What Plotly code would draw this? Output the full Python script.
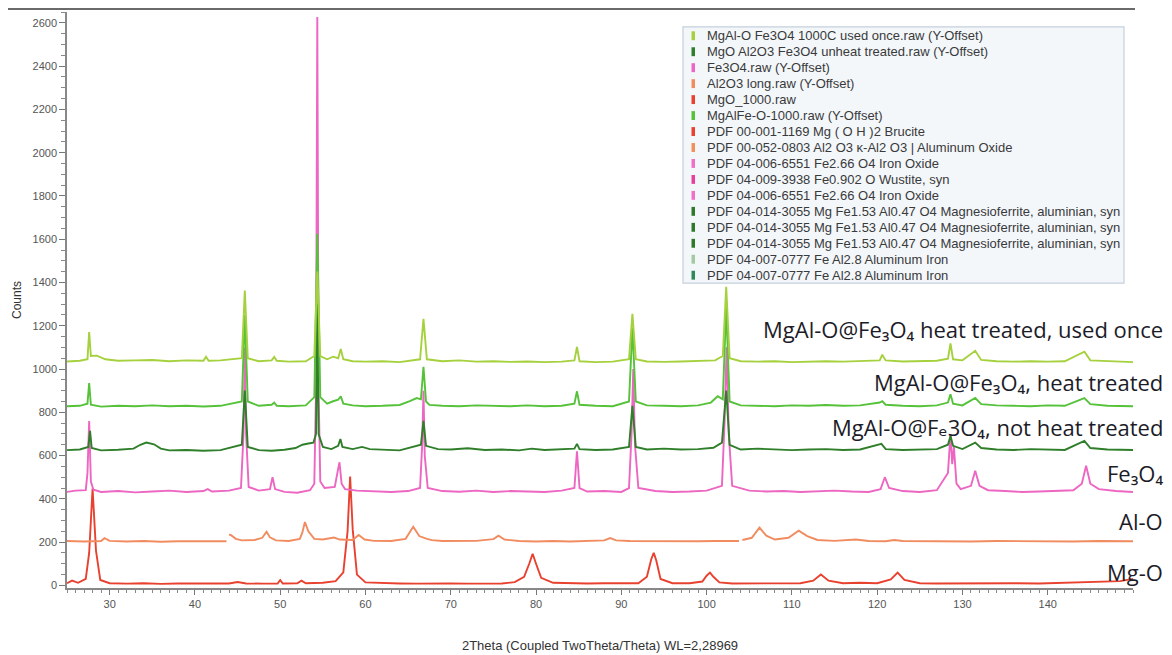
import plotly.graph_objects as go

# ---------------- data (2theta, counts) ----------------
mgo_pts = [(25,10),(25.6,22),(26.3,12),(27.2,30),(27.6,150),(28.0,448),(28.4,160),(28.9,25),(30,10),(32,8),
           (34,10),(36,7),(38,9),(40,8),(42,10),(44,9),(45,16),(46,9),(48,8),(49.7,9),(50,25),(50.3,9),
           (52,10),(52.5,22),(53,10),(55,12),(56.5,20),(57.4,60),(57.9,250),(58.2,503),(58.5,260),(59.0,50),
           (60,14),(62,10),(64,9),(66,8),(68,10),(70,9),(72,8),(74,10),(76,9),(77.5,15),(78.6,40),(79.2,100),
           (79.6,146),(80.0,100),(80.6,35),(82,12),(84,10),(86,9),(88,10),(90,9),(92,10),(93.0,40),(93.5,120),
           (93.8,151),(94.1,115),(94.6,30),(96,10),(98,10),(99.5,18),(100.0,45),(100.4,59),(100.8,40),
           (101.5,14),(103,9),(105,10),(107,9),(109,10),(111,10),(112.5,22),(113.4,50),(114.3,22),(116,10),
           (118,12),(120,10),(121.6,28),(122.4,59),(123.2,25),(125,10),(127,9),(130,10),(133,8),(136,10),
           (139,9),(142,12),(145,14),(147,16),(148.5,20),(150,30)]

al2o3_pts = [(25,205),(27,203),(29,205),(29.4,218),(30,206),(32,203),(34,205),(36,202),(38,204),(40,203),
             (42,205),(43.7,204),(None,None),(44.0,235),(44.2,233),(44.8,215),(45.5,208),(47,210),(47.9,220),
             (48.4,248),(48.8,222),(49.5,208),(51,205),(52.3,215),(52.6,245),(52.9,293),(53.3,250),(54,215),
             (55,212),(56.3,221),(57,212),(58.5,210),(59.2,233),(59.9,212),(61,206),(63,205),(64.7,215),
             (65.6,271),(66.3,228),(67.2,215),(67.8,209),(69,205),(71,204),(73,206),(75,214),(75.6,230),
             (76.3,212),(78,205),(80,203),(82,205),(84,203),(86,205),(88,208),(88.7,219),(89.4,208),(91,205),
             (93,204),(95,205),(97,203),(99,204),(101,205),(103,204),(103.8,205),(None,None),(104.2,210),
             (105.3,220),(106.2,267),(107,230),(108,212),(109.6,220),(110.8,253),(111.8,228),(113,210),
             (115,206),(117.5,212),(119,205),(121,204),(122,210),(123,205),(125,204),(128,205),(131,203),
             (134,205),(137,204),(140,206),(143,203),(146,205),(150,204)]

fe3o4_pts = [(25,432),(26,438),(27.2,440),(27.4,520),(27.6,760),(27.8,480),(28.1,442),(29,432),(31,436),
             (33,430),(35,434),(37,438),(39,432),(41,436),(41.5,445),(42,434),(44,438),(45.4,450),(45.7,700),
             (45.85,1100),(46.0,700),(46.3,455),(47.5,438),(48.8,445),(49.1,500),(49.4,445),(50.5,432),
             (52,428),(53.5,440),(54.0,470),(54.2,900),(54.35,2627),(54.5,900),(54.7,480),(55.2,450),
             (56.4,455),(56.8,540),(56.95,569),(57.2,470),(57.6,445),(59,438),(61,434),(63,432),(65,436),
             (66.4,450),(66.65,650),(66.8,900),(66.95,600),(67.3,450),(69,436),(71,433),(73,438),(75,432),
             (77,436),(79,434),(81,432),(83,438),(84.5,450),(84.8,620),(85.1,450),(86,434),(88,436),(90,432),
             (90.9,450),(91.2,700),(91.4,1000),(91.6,650),(92,450),(94,436),(96,432),(98,434),(100,438),
             (101.8,460),(102.1,750),(102.35,1100),(102.6,700),(103,460),(105,438),(107,434),(109,436),
             (111,432),(113,435),(115,438),(117,434),(119,432),(120.4,445),(120.9,500),(121.4,450),(123,436),
             (125,432),(127,440),(128.3,520),(128.6,700),(128.8,560),(129.0,640),(129.3,470),(129.8,445),
             (131.0,460),(131.5,530),(132.0,460),(133,440),(135,436),(137,432),(139,434),(141,436),(143,440),
             (144.0,470),(144.5,553),(145.0,470),(146,445),(148,436),(150,432)]

unheat_pts = [(25,625),(26.5,628),(27.5,640),(27.7,714),(27.9,635),(29,624),(31,627),(32.8,632),(33.6,650),
              (34.3,660),(35.2,652),(36.0,632),(37,624),(39,626),(41,622),(43,625),(45.5,650),(45.85,900),
              (46.2,640),(47.5,625),(49,622),(50.5,627),(51.8,635),(52.6,650),(53.3,656),(53.9,660),(54.2,700),
              (54.35,1300),(54.5,700),(55,640),(56.0,630),(56.8,645),(57.06,677),(57.3,640),(58.5,630),
              (59.6,640),(60.5,630),(62,626),(64,624),(66.5,650),(66.8,760),(67.1,645),(68.5,630),(70,628),
              (72,634),(74,626),(76,628),(78,624),(79.5,632),(81,626),(83,628),(84.5,632),(84.8,654),(85.1,630),
              (87,626),(89,628),(90.9,640),(91.3,830),(91.7,640),(93,628),(95,632),(97,628),(99,630),
              (100.8,636),(101.8,660),(102.3,900),(102.7,650),(104,628),(106,632),(108,628),(110,625),
              (112,628),(114,630),(116,626),(118,628),(120.5,654),(121,630),(123,626),(125,628),(127,630),
              (128.3,650),(128.6,690),(128.9,645),(130,630),(131.5,660),(132.2,635),(134,628),(136,626),
              (138,630),(140,628),(142,626),(144.3,668),(145,635),(147,628),(150,626)]

heat_pts = [(25,828),(26.5,830),(27.4,840),(27.6,935),(27.8,835),(29,826),(31,830),(33,828),(35,832),
            (37,828),(39,830),(41,827),(43,830),(45.5,850),(45.85,1249),(46.2,850),(47.5,830),(49,835),
            (49.3,845),(49.6,830),(51,828),(53,832),(54.0,870),(54.35,1625),(54.7,870),(55.5,840),(56.2,851),
            (56.8,858),(57.1,874),(57.4,840),(58.5,832),(60,828),(62,830),(64,834),(65.2,852),(66.0,866),
            (66.5,860),(66.8,1010),(67.1,850),(67.5,834),(69,830),(71,828),(73,832),(75,830),(77,828),
            (79,832),(81,828),(83,830),(84.5,840),(84.8,897),(85.1,835),(87,830),(89,828),(90.9,850),
            (91.3,1190),(91.7,850),(93,832),(95,830),(97,828),(99,832),(100.5,845),(101.3,874),(101.9,860),
            (102.3,1285),(102.7,850),(104,832),(106,830),(108,828),(110,832),(112,830),(114,834),(116,830),
            (118,832),(120.3,845),(120.6,851),(121,835),(123,830),(125,828),(127,832),(128.3,845),(128.6,883),
            (128.9,840),(130,832),(131.5,866),(132.2,838),(134,832),(136,830),(138,828),(140,832),(142,830),
            (144.3,866),(145,838),(147,830),(150,828)]

used_pts = [(25,1035),(26.5,1038),(27.4,1045),(27.6,1171),(27.8,1060),(28.5,1062),(29.5,1045),(31,1038),
            (33,1040),(35,1042),(37,1036),(39,1040),(41,1038),(41.3,1057),(41.6,1038),(43,1040),(45.5,1050),
            (45.85,1363),(46.2,1050),(47.5,1036),(49.0,1040),(49.3,1056),(49.6,1038),(51,1034),(53,1036),
            (54.0,1060),(54.35,1450),(54.7,1060),(55.5,1045),(56.2,1057),(56.8,1050),(57.1,1093),(57.4,1045),
            (58.5,1036),(60,1034),(62,1036),(64,1032),(66.4,1045),(66.8,1232),(67.2,1045),(69,1036),(71,1040),
            (73,1034),(75,1036),(77,1033),(79,1035),(81,1032),(83,1034),(84.5,1040),(84.8,1102),(85.1,1036),
            (87,1032),(89,1034),(90.9,1045),(91.3,1255),(91.7,1045),(93,1035),(95,1033),(97,1035),(99,1036),
            (101,1040),(101.9,1060),(102.3,1380),(102.7,1050),(104,1036),(106,1034),(108,1036),(110,1032),
            (112,1034),(114,1036),(116,1034),(118,1036),(120.3,1040),(120.6,1066),(121,1040),(123,1035),
            (125,1036),(127,1038),(128.3,1048),(128.6,1118),(128.9,1045),(130,1040),(131.5,1084),(132.2,1042),
            (134,1036),(136,1034),(138,1036),(140,1034),(142,1036),(144.3,1080),(145,1040),(147,1036),
            (150,1032)]

series_names = ["MgO_1000.raw", "Al2O3 long.raw (Y-Offset)", "Fe3O4.raw (Y-Offset)",
                "MgO Al2O3 Fe3O4 unheat treated.raw (Y-Offset)", "MgAlFe-O-1000.raw (Y-Offset)",
                "MgAl-O Fe3O4 1000C used once.raw (Y-Offset)"]
series_colors = ["#e8412f", "#f08c60", "#ec66c2", "#2f7f2a", "#55c23a", "#a6d13e"]

legend_labels = ["MgAl-O Fe3O4 1000C used once.raw (Y-Offset)",
                 "MgO Al2O3 Fe3O4 unheat treated.raw (Y-Offset)",
                 "Fe3O4.raw (Y-Offset)",
                 "Al2O3 long.raw (Y-Offset)",
                 "MgO_1000.raw",
                 "MgAlFe-O-1000.raw (Y-Offset)",
                 "PDF 00-001-1169 Mg ( O H )2 Brucite",
                 "PDF 00-052-0803 Al2 O3 κ-Al2 O3 | Aluminum Oxide",
                 "PDF 04-006-6551 Fe2.66 O4 Iron Oxide",
                 "PDF 04-009-3938 Fe0.902 O Wustite, syn",
                 "PDF 04-006-6551 Fe2.66 O4 Iron Oxide",
                 "PDF 04-014-3055 Mg Fe1.53 Al0.47 O4 Magnesioferrite, aluminian, syn",
                 "PDF 04-014-3055 Mg Fe1.53 Al0.47 O4 Magnesioferrite, aluminian, syn",
                 "PDF 04-014-3055 Mg Fe1.53 Al0.47 O4 Magnesioferrite, aluminian, syn",
                 "PDF 04-007-0777 Fe Al2.8 Aluminum Iron",
                 "PDF 04-007-0777 Fe Al2.8 Aluminum Iron"]
legend_colors = ["#a6d13e", "#2f7f2a", "#ec66c2", "#f08c60", "#e8412f", "#55c23a",
                 "#e8412f", "#f0905a", "#f070c8", "#e8409a", "#f070c8",
                 "#2f7a2a", "#2f7a2a", "#2f7a2a", "#a3c9a3", "#2e8a5a"]

curve_labels = ["MgAl-O@Fe₃O₄ heat treated, used once",
                "MgAl-O@Fe₃O₄, heat treated",
                "MgAl-O@Fₑ3O₄, not heat treated",
                "Fe₃O₄",
                "Al-O",
                "Mg-O"]
curve_label_counts = [1185, 938, 733, 518, 296, 61]

x_ticks = [30, 40, 50, 60, 70, 80, 90, 100, 110, 120, 130, 140]
y_ticks = [0, 200, 400, 600, 800, 1000, 1200, 1400, 1600, 1800, 2000, 2200, 2400, 2600]

# ---------------- figure ----------------
# page body has an 8px margin, so the figure is 8px smaller and shifted
OFF = 8
W, H = 1172 - OFF, 655 - OFF
ML, MR, MT, MB = 67 - OFF, 39, 12 - OFF, 61
PW, PH = W - ML - MR, H - MT - MB


def px_x(px):
    return (px - OFF - ML) / PW


def px_y(py):
    return (H - MB - (py - OFF)) / PH


fig = go.Figure()
for pts, name, col in zip([mgo_pts, al2o3_pts, fe3o4_pts, unheat_pts, heat_pts, used_pts],
                          series_names, series_colors):
    xs = [p[0] for p in pts]
    ys = [p[1] for p in pts]
    fig.add_trace(go.Scatter(x=xs, y=ys, mode="lines", name=name,
                             line=dict(color=col, width=1.9), connectgaps=False,
                             showlegend=False, hoverinfo="x+y+name"))

# curve labels on the right
for txt, yv in zip(curve_labels, curve_label_counts):
    fig.add_annotation(x=px_x(1165), xref="paper", y=yv, yref="y", text=txt,
                       showarrow=False, xanchor="right", yanchor="middle",
                       font=dict(family="Open Sans, DejaVu Sans", size=22, color="#1c1c28"))

# legend box
shapes = [dict(type="rect", xref="paper", yref="paper",
               x0=px_x(683), x1=px_x(1124), y0=px_y(286), y1=px_y(27),
               fillcolor="#f3f7fa", line=dict(color="#c5d0dc", width=1.2), layer="below")]
y0_leg, dy_leg = 36, 16.13
for i, (lab, col) in enumerate(zip(legend_labels, legend_colors)):
    cy = y0_leg + i * dy_leg
    shapes.append(dict(type="rect", xref="paper", yref="paper",
                       x0=px_x(691.5), x1=px_x(695), y0=px_y(cy + 4.5), y1=px_y(cy - 4.5),
                       fillcolor=col, line=dict(width=0), layer="below"))
    fig.add_annotation(x=px_x(705), xref="paper", y=px_y(cy), yref="paper", text=lab,
                       showarrow=False, xanchor="left", yanchor="middle",
                       font=dict(family="Liberation Sans, Arial", size=13, color="#3a3a3a"))

# top rule
shapes.append(dict(type="line", xref="paper", yref="paper", x0=px_x(8), x1=px_x(1135),
                   y0=px_y(9), y1=px_y(9), line=dict(color="#6a6a6a", width=2)))
fig.update_layout(shapes=shapes)

axis_font = dict(family="Liberation Sans, Arial", size=11, color="#555555")
fig.update_xaxes(range=[25, 150], tickvals=x_ticks, ticks="outside", ticklen=5, tickcolor="#777",
                 showline=True, linecolor="#888", linewidth=1.5, showgrid=False, zeroline=False,
                 tickfont=axis_font,
                 minor=dict(dtick=1, tick0=25, ticks="outside", ticklen=3, tickcolor="#888", showgrid=False),
                 title=dict(text="2Theta (Coupled TwoTheta/Theta) WL=2,28969",
                            font=dict(family="Liberation Sans, Arial", size=13, color="#333333"),
                            standoff=32))
fig.update_yaxes(range=[-12, 2650], tickvals=y_ticks, ticks="outside", ticklen=6, tickcolor="#777",
                 showline=True, linecolor="#888", linewidth=1.5, showgrid=False, zeroline=False,
                 tickfont=axis_font,
                 minor=dict(dtick=50, tick0=0, ticks="outside", ticklen=4, tickcolor="#888", showgrid=False),
                 title=dict(text="Counts", font=dict(family="Liberation Sans, Arial", size=12,
                                                     color="#333333"), standoff=8))

fig.update_layout(width=W, height=H, margin=dict(l=ML, r=MR, t=MT, b=MB),
                  paper_bgcolor="white", plot_bgcolor="white", showlegend=False)

fig.write_html("out.html")
